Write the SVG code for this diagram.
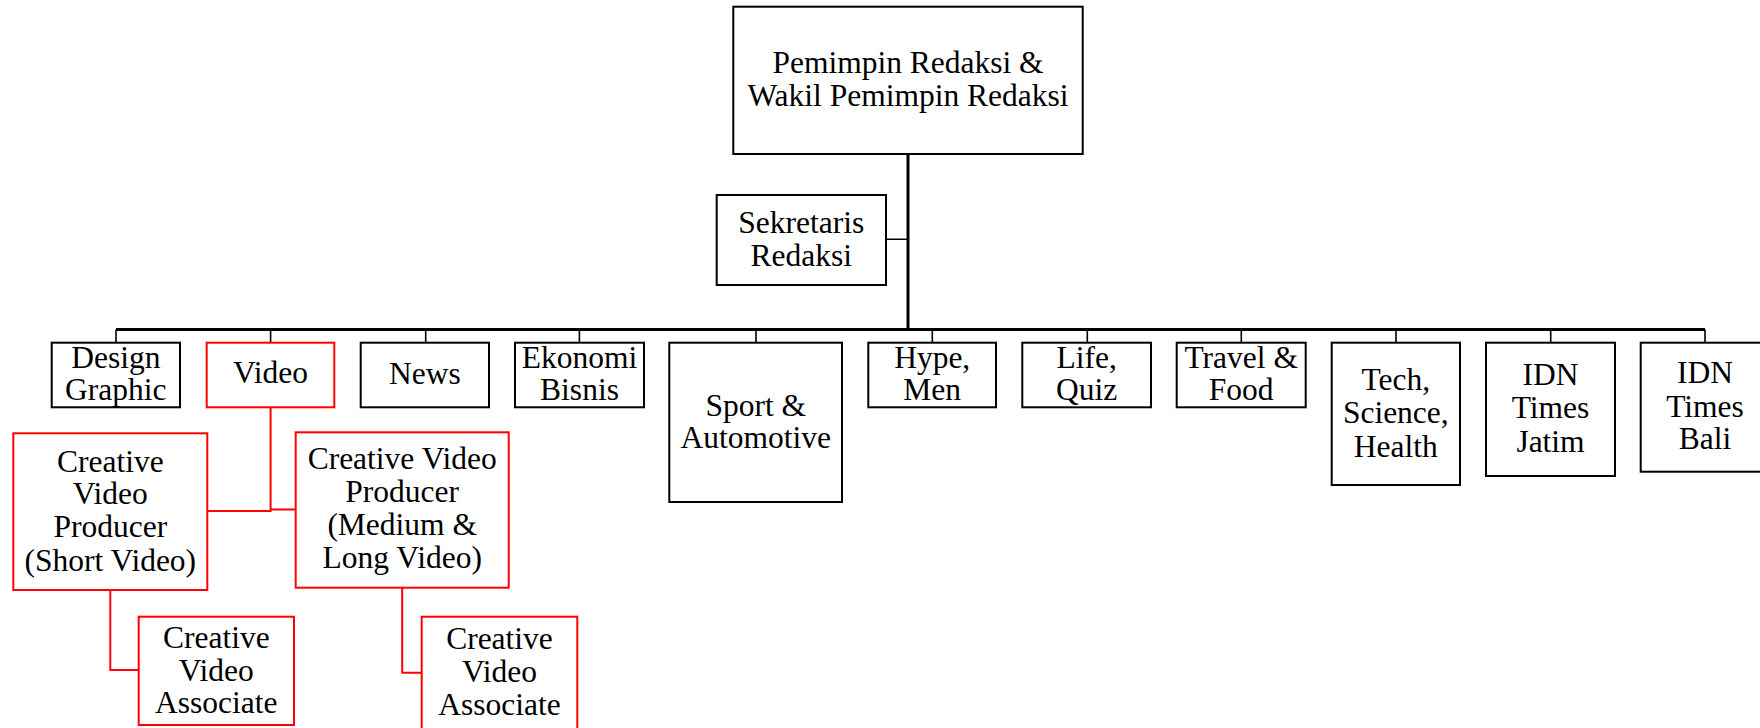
<svg xmlns="http://www.w3.org/2000/svg" width="1760" height="728" viewBox="0 0 1760 728">
<style>
.b{fill:#fff;stroke:#000;stroke-width:2}
.r{fill:#fff;stroke:#ff0000;stroke-width:2}
text{font-family:"Liberation Serif","Times New Roman",serif;font-size:31.5px;fill:#000;text-anchor:middle}
.c{fill:none;stroke:#000;stroke-width:1.6}
.cb{fill:none;stroke:#000;stroke-width:3}
.cr{fill:none;stroke:#ff0000;stroke-width:2}
</style>
<rect width="1760" height="728" fill="#fff"/>
<g id="connectors">
<path class="cb" d="M908,154V329.5M116,329.5H1705"/>
<path class="c" d="M886,239.3H908M116,329.5V343M270.6,329.5V343M425.7,329.5V343M579.4,329.5V343M756,329.5V343M932.3,329.5V343M1087.3,329.5V343M1241.3,329.5V343M1396,329.5V343M1550.7,329.5V343M1705,329.5V343"/>
<path class="cr" d="M270.6,407.3V511H207.3M270.6,509.5H295.7M110.3,590V670H138.7M402.2,587.7V672.7H421.7"/>
</g>
<g id="n-top"><rect class="b" x="733.3" y="6.7" width="349.4" height="147.3"/><text x="908" y="72.7">Pemimpin Redaksi &amp;</text><text x="908" y="106">Wakil Pemimpin Redaksi</text></g>
<g id="n-sek"><rect class="b" x="716.7" y="195" width="169.3" height="90"/><text x="801.3" y="233.3">Sekretaris</text><text x="801.3" y="265.5">Redaksi</text></g>
<g id="n-design"><rect class="b" x="51.7" y="342.7" width="128.3" height="64.6"/><text x="115.8" y="367.7">Design</text><text x="115.8" y="400">Graphic</text></g>
<g id="n-video"><rect class="r" x="206.7" y="342.7" width="127.6" height="64.6"/><text x="270.5" y="383.3">Video</text></g>
<g id="n-news"><rect class="b" x="360.7" y="342.7" width="128.3" height="64.6"/><text x="424.8" y="384">News</text></g>
<g id="n-ekonomi"><rect class="b" x="515" y="342.7" width="129" height="64.6"/><text x="579.5" y="367.7">Ekonomi</text><text x="579.5" y="400">Bisnis</text></g>
<g id="n-sport"><rect class="b" x="669.3" y="342.7" width="172.7" height="159.3"/><text x="755.7" y="415.7">Sport &amp;</text><text x="755.7" y="448.3">Automotive</text></g>
<g id="n-hype"><rect class="b" x="868.3" y="342.7" width="127.7" height="64.6"/><text x="932.2" y="367.7">Hype,</text><text x="932.2" y="400">Men</text></g>
<g id="n-life"><rect class="b" x="1022.3" y="342.7" width="128.7" height="64.6"/><text x="1086.7" y="367.7">Life,</text><text x="1086.7" y="400">Quiz</text></g>
<g id="n-travel"><rect class="b" x="1176.7" y="342.7" width="129" height="64.6"/><text x="1241.2" y="367.7">Travel &amp;</text><text x="1241.2" y="400">Food</text></g>
<g id="n-tech"><rect class="b" x="1331.7" y="342.7" width="128.3" height="142.3"/><text x="1395.8" y="390">Tech,</text><text x="1395.8" y="423">Science,</text><text x="1395.8" y="456.5">Health</text></g>
<g id="n-jatim"><rect class="b" x="1486" y="342.7" width="129" height="133.3"/><text x="1550.5" y="385">IDN</text><text x="1550.5" y="418.3">Times</text><text x="1550.5" y="451.7">Jatim</text></g>
<g id="n-bali"><rect class="b" x="1640.7" y="342.7" width="128.6" height="129"/><text x="1705" y="383.3">IDN</text><text x="1705" y="416.7">Times</text><text x="1705" y="449">Bali</text></g>
<g id="n-cvp-short"><rect class="r" x="13.3" y="433.3" width="194" height="156.7"/><text x="110.3" y="471.7">Creative</text><text x="110.3" y="504">Video</text><text x="110.3" y="537.3">Producer</text><text x="110.3" y="570.7">(Short Video)</text></g>
<g id="n-cvp-medium"><rect class="r" x="295.7" y="432.3" width="213" height="155.4"/><text x="402.2" y="469.3">Creative Video</text><text x="402.2" y="501.7">Producer</text><text x="402.2" y="535">(Medium &amp;</text><text x="402.2" y="568.3">Long Video)</text></g>
<g id="n-cva-1"><rect class="r" x="138.7" y="616.7" width="155.3" height="108.3"/><text x="216.3" y="647.7">Creative</text><text x="216.3" y="681">Video</text><text x="216.3" y="713.3">Associate</text></g>
<g id="n-cva-2"><rect class="r" x="421.7" y="616.7" width="155.6" height="115"/><text x="499.5" y="649.3">Creative</text><text x="499.5" y="681.7">Video</text><text x="499.5" y="715">Associate</text></g>
</svg>
